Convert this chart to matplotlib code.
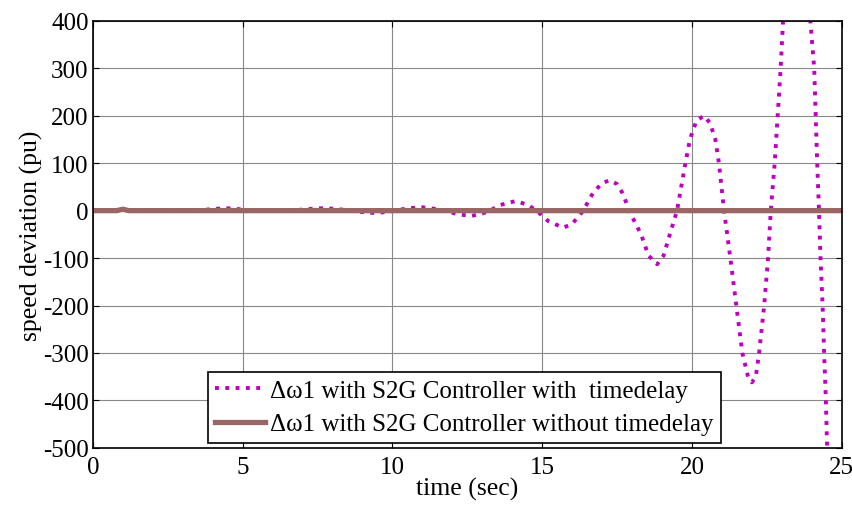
import numpy as np
import matplotlib.pyplot as plt

plt.rcParams['font.family'] = ['Liberation Serif', 'DejaVu Serif']
plt.rcParams['axes.unicode_minus'] = False

# speed deviation samples, S2G controller with time delay
t_delay = [0.0, 0.5, 0.9, 1.0, 1.2, 2.0, 3.0, 3.6, 4.1, 4.5, 4.9, 5.4, 6.0, 6.6,
           7.1, 7.6, 8.1, 8.6, 9.0, 9.4, 9.8, 10.1, 10.5, 11.0, 11.4, 11.75,
           12.2, 12.65, 13.0, 13.25, 13.6, 14.1, 14.5, 14.81, 15.2, 15.7, 16.0,
           16.37, 16.7, 17.0, 17.25, 17.5, 17.7, 17.9, 18.3, 18.55, 18.84,
           19.05, 19.26, 19.5, 19.78, 19.93, 20.15, 20.4, 20.6, 20.78, 20.9,
           21.07, 21.28, 21.48, 21.68, 21.87, 22.0, 22.13, 22.24, 22.41, 22.54,
           22.63, 22.76, 22.86, 22.96, 23.04, 23.2, 23.45, 23.7, 23.95, 24.08,
           24.13, 24.18, 24.24, 24.29, 24.36, 24.41, 24.47, 24.51, 24.7]
w_delay = [0, -1, 2, 3, 0, 0, 0, 1, 4, 5, 3, 0, -1, 0,
           3, 5, 4, 0, -3, -5, -3, 0, 5, 7, 4, 0,
           -8, -11, -6, 0, 12, 20, 13, 0, -22, -36, -28,
           0, 38, 58, 64, 56, 35, 0, -50, -95, -113,
           -95, -50, 0, 100, 150, 190, 200, 185, 150, 100,
           0, -100, -200, -300, -350, -362, -350, -300, -200, -100,
           0, 100, 200, 300, 400, 530, 610, 560, 400, 300,
           200, 100, 0, -100, -200, -300, -400, -500, -750]

# same controller without time delay
t_nodelay = [0.0, 0.8, 1.0, 1.2, 25.0]
w_nodelay = [0, 0, 3, 0, 0]

fig = plt.figure(figsize=(8.52, 5.10), dpi=100)
ax = fig.add_axes([0.109, 0.12, 0.879, 0.837])

ax.plot(t_delay, w_delay, color='#C000C0', linestyle=':', linewidth=2.8,
        dash_capstyle='butt', label='Δω1 with S2G Controller with  timedelay')
ax.plot(t_nodelay, w_nodelay, color='#9A6565', linewidth=3.8,
        label='Δω1 with S2G Controller without timedelay')

ax.set_xlim(0, 25)
ax.set_ylim(-500, 400)
ax.set_xticks(np.arange(0, 26, 5))
ax.set_yticks(np.arange(-500, 401, 100))
ax.grid(True, color='#888888', linewidth=0.8)
ax.tick_params(direction='in', top=True, right=True, labelsize=18, length=4, pad=3)
ax.tick_params(axis='x', pad=6)
for s in ax.spines.values():
    s.set_linewidth(1.2)

ax.set_xlabel('time (sec)', fontsize=18.5, labelpad=-1)
ax.set_ylabel('speed deviation (pu)', fontsize=18.5, labelpad=0)

leg = ax.legend(loc='lower center', bbox_to_anchor=(0.496, 0.0), fontsize=18,
                frameon=True, fancybox=False, handlelength=2.0, handletextpad=0.2,
                borderpad=0.3, labelspacing=0.45, borderaxespad=0.2)
leg.get_frame().set_edgecolor('black')
leg.get_frame().set_linewidth(1.2)
leg.get_frame().set_alpha(1)

fig.savefig('out.png', dpi=100)
